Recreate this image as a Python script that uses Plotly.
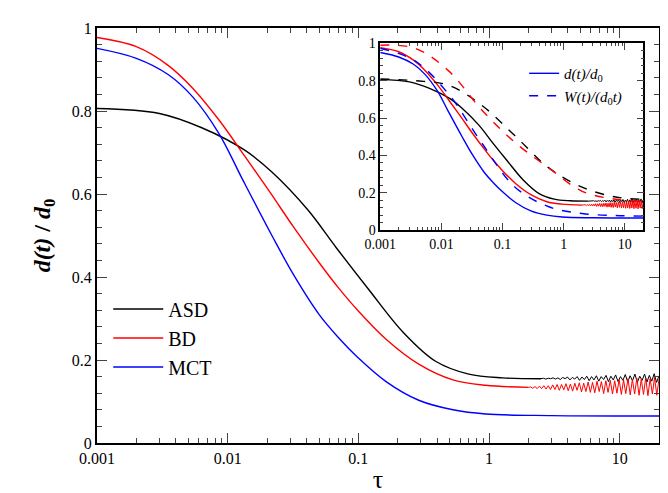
import numpy as np
import plotly.graph_objects as go

# smooth parts of the curves
tau_asd = [0.001, 0.003, 0.0064, 0.0136, 0.0218, 0.041, 0.068, 0.12, 0.22, 0.39, 0.7, 1.27, 2.5]
asd = [0.806, 0.794, 0.759, 0.705, 0.653, 0.562, 0.47, 0.37, 0.267, 0.197, 0.166, 0.157, 0.155]
tau_bd = [0.001, 0.002, 0.0035, 0.0054, 0.0085, 0.0136, 0.021, 0.032, 0.05, 0.07,
          0.1, 0.163, 0.29, 0.53, 0.94, 2.0]
bd = [0.977, 0.955, 0.91, 0.855, 0.78, 0.69, 0.605, 0.52, 0.435, 0.375,
      0.318, 0.25, 0.19, 0.152, 0.139, 0.134]
tau_mct = [0.001, 0.002, 0.0035, 0.0054, 0.0086, 0.0129, 0.0218, 0.032, 0.05, 0.07,
           0.1, 0.163, 0.29, 0.53, 0.94, 3.0, 20.0]
mct = [0.951, 0.927, 0.888, 0.834, 0.745, 0.637, 0.50, 0.405, 0.31, 0.255,
       0.205, 0.148, 0.103, 0.08, 0.07, 0.066, 0.065]

# noisy tails
asd_tail_x = list(np.geomspace(2.5, 20, 50))
asd_tail = [0.155, 0.156, 0.154, 0.156, 0.155, 0.157, 0.154, 0.157, 0.153, 0.158,
            0.155, 0.159, 0.152, 0.158, 0.154, 0.160, 0.151, 0.159, 0.153, 0.161,
            0.150, 0.160, 0.152, 0.162, 0.149, 0.160, 0.153, 0.163, 0.148, 0.161,
            0.152, 0.164, 0.148, 0.160, 0.151, 0.165, 0.147, 0.162, 0.150, 0.166,
            0.146, 0.161, 0.151, 0.166, 0.147, 0.163, 0.149, 0.167, 0.146, 0.162]
bd_tail_x = list(np.geomspace(2.0, 20, 60))
bd_tail = [0.134, 0.135, 0.132, 0.136, 0.131, 0.137, 0.131, 0.138, 0.130, 0.138,
           0.129, 0.140, 0.129, 0.141, 0.127, 0.141, 0.128, 0.143, 0.126, 0.142,
           0.125, 0.144, 0.127, 0.145, 0.123, 0.144, 0.124, 0.147, 0.122, 0.146,
           0.121, 0.149, 0.124, 0.148, 0.119, 0.150, 0.122, 0.151, 0.118, 0.150,
           0.120, 0.153, 0.117, 0.152, 0.119, 0.155, 0.116, 0.153, 0.118, 0.156,
           0.115, 0.154, 0.117, 0.157, 0.114, 0.155, 0.118, 0.158, 0.115, 0.154]

# inset dashed curves W(t)/(d0 t)
tau_w = [0.001, 0.0037, 0.013, 0.045, 0.16, 0.57, 2.0, 7.1, 20.0]
asd_w = [0.81, 0.80, 0.776, 0.67, 0.505, 0.333, 0.23, 0.177, 0.165]
bd_w = [0.99, 0.974, 0.854, 0.646, 0.469, 0.333, 0.208, 0.165, 0.155]
mct_w = [0.974, 0.906, 0.73, 0.47, 0.23, 0.125, 0.089, 0.078, 0.075]

fnt = "Liberation Serif"
fig = go.Figure()

def add(x, y, color, name=None, xa="x", ya="y", dash="solid", legend="legend", show=False,
        shape="spline", width=1.4):
    fig.add_trace(go.Scatter(x=x, y=y, mode="lines", name=name, xaxis=xa, yaxis=ya,
                             line=dict(color=color, width=width, dash=dash, shape=shape,
                                       smoothing=1.0),
                             showlegend=show, legend=legend))

curves = [(tau_asd, asd, asd_tail_x, asd_tail, "black", "ASD"),
          (tau_bd, bd, bd_tail_x, bd_tail, "red", "BD")]
for xa, ya in [("x", "y"), ("x2", "y2")]:
    main_ax = xa == "x"
    for tx, main, nx, tail, col, nm in curves:
        add(tx, main, col, nm, xa=xa, ya=ya, show=main_ax, legend="legend")
        add(nx, tail, col, xa=xa, ya=ya, shape="linear", width=1)
    add(tau_mct, mct, "blue", "MCT" if main_ax else "<i>d(t)/d</i><sub>0</sub>", xa=xa, ya=ya,
        legend="legend" if main_ax else "legend2", show=True)
add(tau_w, asd_w, "black", xa="x2", ya="y2", dash="dash")
add(tau_w, bd_w, "red", xa="x2", ya="y2", dash="dash")
add(tau_w, mct_w, "blue", "<i>W(t)/(d</i><sub>0</sub><i>t)</i>", xa="x2", ya="y2", dash="dash",
    legend="legend2", show=True)

major_x = [0.001, 0.01, 0.1, 1, 10]
major_lbl = ["0.001", "0.01", "0.1", "1", "10"]
minor_x = [m * 10.0 ** e for e in range(-3, 2) for m in range(2, 10)]
ax = dict(showline=True, linecolor="black", linewidth=2, mirror="ticks", ticks="inside",
          showgrid=False, zeroline=False, tickfont=dict(family=fnt, size=16, color="black"))
xr = [-3, np.log10(20)]
fig.update_layout(
    width=668, height=493, plot_bgcolor="white", paper_bgcolor="white",
    margin=dict(l=89, r=17, t=14, b=52),
    font=dict(family=fnt, color="black"),
    xaxis=dict(type="log", range=xr, tickvals=major_x, ticktext=major_lbl, ticklen=10,
               minor=dict(ticks="inside", ticklen=5, tickvals=minor_x, showgrid=False),
               title=dict(text="τ", font=dict(size=26), standoff=4), **ax),
    yaxis=dict(range=[0, 1], dtick=0.2, ticklen=10, tickformat="~g",
               minor=dict(ticks="inside", ticklen=5, dtick=0.04, showgrid=False),
               title=dict(text="<b><i>d(t)</i> / <i>d</i><sub>0</sub></b>", font=dict(size=24),
                          standoff=14), **ax),
    xaxis2=dict(type="log", range=xr, domain=[0.504, 0.972], anchor="y2", tickvals=major_x,
                ticktext=major_lbl, ticklen=7,
                minor=dict(ticks="inside", ticklen=3, tickvals=minor_x, showgrid=False), **ax),
    yaxis2=dict(range=[0, 1], dtick=0.2, domain=[0.513, 0.963], anchor="x2", ticklen=7,
                tickformat="~g", minor=dict(ticks="inside", ticklen=3, dtick=0.04, showgrid=False), **ax),
    legend=dict(x=0.02, y=0.37, xanchor="left", yanchor="top", bgcolor="rgba(0,0,0,0)",
                font=dict(family=fnt, size=20), tracegroupgap=4, itemwidth=50),
    legend2=dict(x=0.76, y=0.93, xanchor="left", yanchor="top", bgcolor="rgba(0,0,0,0)",
                 font=dict(family=fnt, size=15), itemwidth=30),
)
fig.update_xaxes(tickfont_size=14, linewidth=1.5, selector=dict(anchor="y2"))
fig.update_yaxes(tickfont_size=14, linewidth=1.5, selector=dict(anchor="x2"))
fig.write_html("out.html")
